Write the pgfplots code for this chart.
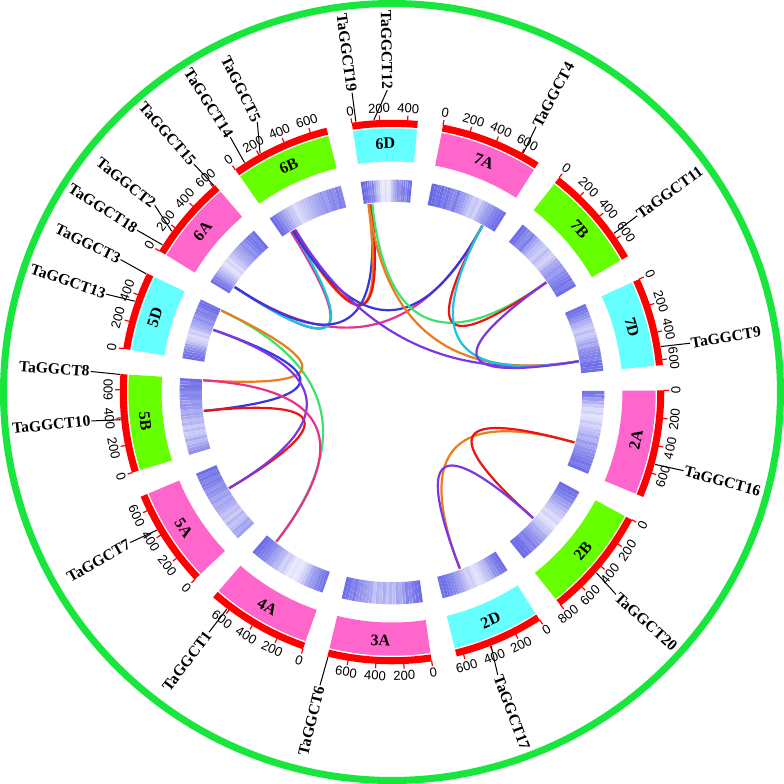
\documentclass[border=0pt]{standalone}
\usepackage{fontspec}
\setmainfont{Liberation Serif}
\newfontfamily\sansf{Liberation Sans}
\usepackage{pgfplots}
\pgfplotsset{compat=1.18}

\definecolor{bandA}{RGB}{255,102,204}
\definecolor{bandB}{RGB}{102,255,0}
\definecolor{bandD}{RGB}{102,255,255}
\definecolor{ringred}{RGB}{255,0,0}
\definecolor{gcircle}{RGB}{25,230,60}
\definecolor{lred}{RGB}{235,20,20}
\definecolor{lorange}{RGB}{235,125,30}
\definecolor{lblue}{RGB}{55,55,225}
\definecolor{lpurple}{RGB}{125,55,225}
\definecolor{lgreen}{RGB}{60,225,110}
\definecolor{lcyan}{RGB}{25,195,225}
\definecolor{lpink}{RGB}{230,50,140}

\newcommand\genefont{\fontsize{15.5}{18}\selectfont\bfseries}
\newcommand\namefont{\fontsize{16}{18}\selectfont\bfseries}
\newcommand\tickfont{\sansf\fontsize{13}{15}\selectfont}

% degrees per Mb and gap between chromosomes (degrees)
\def\sc{0.0295}
\def\gp{5.37}
\def\curstart{-8.5}
\newcommand\CS[1]{\csname cs#1\endcsname}
\newcommand\CL[1]{\csname cl#1\endcsname}
\newcommand\defchr[2]{%
  \expandafter\xdef\csname cs#1\endcsname{\curstart}%
  \expandafter\xdef\csname cl#1\endcsname{#2}%
  \pgfmathsetmacro\mytmpa{\curstart+#2*\sc+\gp}%
  \xdef\curstart{\mytmpa}}
% chromosome lengths (Mb), clockwise from the top
\defchr{6D}{473}
\defchr{7A}{737}
\defchr{7B}{751}
\defchr{7D}{639}
\defchr{2A}{780}
\defchr{2B}{801}
\defchr{2D}{651}
\defchr{3A}{750}
\defchr{4A}{745}
\defchr{5A}{710}
\defchr{5B}{713}
\defchr{5D}{566}
\defchr{6A}{618}
\defchr{6B}{720}

\newcommand\myrotflip{%
  \pgfmathsetmacro\myang{mod(\myang+360,360)}%
  \ifdim\myang pt>90pt
    \ifdim\myang pt<270pt \pgfmathsetmacro\myrot{180-\myang}\else\pgfmathsetmacro\myrot{-\myang}\fi
  \else\pgfmathsetmacro\myrot{-\myang}\fi}

\newcommand\band[2]{%
  \pgfmathsetmacro\myba{\CS{#1}}%
  \pgfmathsetmacro\mybb{\CS{#1}+\CL{#1}*\sc}%
  \edef\mytmp{\noexpand\addplot[draw=#2, line width=33pt, domain=\myba:\mybb, samples=40] ({245.5*sin(x)},{245.5*cos(x)});}\mytmp
  \edef\mytmp{\noexpand\addplot[draw=ringred, line width=7pt, domain=\myba:\mybb, samples=40] ({267*sin(x)},{267*cos(x)});}\mytmp
  \pgfmathsetmacro\myang{\CS{#1}+\CL{#1}*\sc/2}%
  \pgfmathsetmacro\myxc{247*sin(\myang)}\pgfmathsetmacro\myyc{247*cos(\myang)}%
  \myrotflip
  \edef\mytmp{\noexpand\node[font=\noexpand\namefont, rotate=\myrot, inner sep=0pt] at (axis cs:\myxc,\myyc) {#1};}\mytmp}

\newcommand\hm[2]{%
  \addplot[mesh, line width=22pt, point meta=explicit, shader=flat corner]
    table[row sep=\\, meta=v,
      x expr={200*sin(\CS{#1}+\coordindex*\CL{#1}*\sc/24)},
      y expr={200*cos(\CS{#1}+\coordindex*\CL{#1}*\sc/24)}] {#2};}

\newcommand\tk[2]{%
  \pgfmathsetmacro\myang{\CS{#1}+#2*\sc}%
  \pgfmathsetmacro\myxa{270*sin(\myang)}\pgfmathsetmacro\myya{270*cos(\myang)}%
  \pgfmathsetmacro\myxb{275*sin(\myang)}\pgfmathsetmacro\myyb{275*cos(\myang)}%
  \pgfmathsetmacro\myxc{282*sin(\myang)}\pgfmathsetmacro\myyc{282*cos(\myang)}%
  \edef\mytmp{\noexpand\addplot[draw=ringred, line width=1.2pt] coordinates {(\myxa,\myya) (\myxb,\myyb)};}\mytmp
  \myrotflip
  \edef\mytmp{\noexpand\node[font=\noexpand\tickfont, rotate=\myrot, inner sep=0pt] at (axis cs:\myxc,\myyc) {#2};}\mytmp}

\newcommand\lk[5]{%
  \pgfmathsetmacro\myp{\CS{#1}+#2*\sc}%
  \pgfmathsetmacro\myq{\CS{#3}+#4*\sc}%
  \pgfmathsetmacro\mypx{188*sin(\myp)}\pgfmathsetmacro\mypy{188*cos(\myp)}%
  \pgfmathsetmacro\myqx{188*sin(\myq)}\pgfmathsetmacro\myqy{188*cos(\myq)}%
  \edef\mytmp{\noexpand\addplot[draw=#5, line width=2.2pt, domain=0:1, samples=60] ({(1-x)^2*(\mypx)+x^2*(\myqx)},{(1-x)^2*(\mypy)+x^2*(\myqy)});}\mytmp}

\newcommand\gl[4]{%
  \pgfmathsetmacro\myg{\CS{#1}+#2*\sc}%
  \pgfmathsetmacro\myxa{271*sin(\myg)}\pgfmathsetmacro\myya{271*cos(\myg)}%
  \pgfmathsetmacro\myxb{300*sin(#3)}\pgfmathsetmacro\myyb{300*cos(#3)}%
  \pgfmathsetmacro\myxc{301*sin(#3)}\pgfmathsetmacro\myyc{301*cos(#3)}%
  \edef\mytmp{\noexpand\addplot[black, line width=1pt] coordinates {(\myxa,\myya) (\myxb,\myyb)};}\mytmp
  \pgfmathsetmacro\myang{mod(#3+360,360)}%
  \ifdim\myang pt<180pt
    \pgfmathsetmacro\myrot{90-\myang}\def\myanc{west}%
  \else
    \pgfmathsetmacro\myrot{270-\myang}\def\myanc{east}%
  \fi
  \edef\mytmp{\noexpand\node[font=\noexpand\genefont, rotate=\myrot, anchor=\myanc, inner sep=0pt] at (axis cs:\myxc,\myyc) {#4};}\mytmp}

\begin{document}
\begin{tikzpicture}
\begin{axis}[scale only axis, width=784pt, height=784pt,
  xmin=-393, xmax=391, ymin=-394, ymax=390,
  hide axis, clip=false,
  colormap={heat}{rgb255=(250,250,255) rgb255=(95,95,230)},
  point meta min=0, point meta max=1,
  every axis plot/.append style={no markers}]

\addplot[draw=gcircle, line width=7pt, domain=0:360, samples=240] ({386*sin(x)},{386*cos(x)});

% ideogram bands, scale ring and names
\band{6D}{bandD}
\band{7A}{bandA}
\band{7B}{bandB}
\band{7D}{bandD}
\band{2A}{bandA}
\band{2B}{bandB}
\band{2D}{bandD}
\band{3A}{bandA}
\band{4A}{bandA}
\band{5A}{bandA}
\band{5B}{bandB}
\band{5D}{bandD}
\band{6A}{bandA}
\band{6B}{bandB}

% gene density heatmap (25 values per chromosome, start to end)
\hm{6D}{v\\0.95\\0.9\\0.85\\0.8\\0.7\\0.75\\0.55\\0.4\\0.3\\0.15\\0.1\\0.2\\0.1\\0.15\\0.3\\0.45\\0.55\\0.7\\0.65\\0.75\\0.8\\0.7\\0.85\\0.9\\0.9\\}
\hm{7A}{v\\0.95\\0.9\\0.85\\0.9\\0.8\\0.85\\0.75\\0.7\\0.8\\0.65\\0.6\\0.5\\0.4\\0.3\\0.35\\0.25\\0.4\\0.5\\0.6\\0.65\\0.75\\0.8\\0.85\\0.9\\0.95\\}
\hm{7B}{v\\0.9\\0.85\\0.75\\0.7\\0.8\\0.6\\0.5\\0.4\\0.35\\0.3\\0.4\\0.3\\0.25\\0.35\\0.5\\0.55\\0.65\\0.6\\0.7\\0.75\\0.8\\0.85\\0.8\\0.9\\0.9\\}
\hm{7D}{v\\0.9\\0.85\\0.8\\0.7\\0.65\\0.5\\0.45\\0.35\\0.3\\0.4\\0.3\\0.35\\0.45\\0.55\\0.5\\0.65\\0.7\\0.75\\0.8\\0.75\\0.85\\0.9\\0.85\\0.9\\0.95\\}
\hm{2A}{v\\0.85\\0.8\\0.6\\0.45\\0.3\\0.2\\0.25\\0.15\\0.2\\0.3\\0.25\\0.35\\0.4\\0.5\\0.45\\0.6\\0.55\\0.65\\0.7\\0.75\\0.8\\0.85\\0.8\\0.9\\0.9\\}
\hm{2B}{v\\0.9\\0.85\\0.8\\0.75\\0.6\\0.55\\0.45\\0.35\\0.3\\0.2\\0.25\\0.15\\0.2\\0.3\\0.35\\0.5\\0.55\\0.65\\0.7\\0.8\\0.75\\0.85\\0.9\\0.9\\0.95\\}
\hm{2D}{v\\0.9\\0.85\\0.8\\0.7\\0.65\\0.5\\0.4\\0.35\\0.25\\0.2\\0.15\\0.2\\0.3\\0.25\\0.35\\0.45\\0.55\\0.6\\0.7\\0.75\\0.8\\0.85\\0.9\\0.85\\0.95\\}
\hm{3A}{v\\0.9\\0.85\\0.8\\0.7\\0.75\\0.6\\0.5\\0.55\\0.4\\0.45\\0.35\\0.5\\0.4\\0.45\\0.35\\0.5\\0.55\\0.6\\0.65\\0.7\\0.8\\0.75\\0.85\\0.9\\0.9\\}
\hm{4A}{v\\0.85\\0.8\\0.75\\0.65\\0.6\\0.5\\0.35\\0.25\\0.15\\0.1\\0.15\\0.1\\0.2\\0.3\\0.25\\0.4\\0.45\\0.55\\0.6\\0.7\\0.75\\0.8\\0.85\\0.9\\0.9\\}
\hm{5A}{v\\0.6\\0.5\\0.55\\0.4\\0.35\\0.45\\0.3\\0.4\\0.35\\0.45\\0.5\\0.55\\0.5\\0.6\\0.55\\0.65\\0.7\\0.65\\0.75\\0.8\\0.75\\0.85\\0.8\\0.9\\0.9\\}
\hm{5B}{v\\0.7\\0.6\\0.5\\0.4\\0.5\\0.35\\0.3\\0.4\\0.3\\0.45\\0.4\\0.5\\0.55\\0.5\\0.6\\0.65\\0.6\\0.7\\0.75\\0.7\\0.8\\0.85\\0.8\\0.9\\0.9\\}
\hm{5D}{v\\0.9\\0.85\\0.8\\0.75\\0.65\\0.55\\0.4\\0.3\\0.25\\0.2\\0.3\\0.25\\0.4\\0.5\\0.55\\0.6\\0.7\\0.65\\0.75\\0.8\\0.75\\0.85\\0.9\\0.85\\0.9\\}
\hm{6A}{v\\0.9\\0.8\\0.75\\0.6\\0.5\\0.4\\0.3\\0.2\\0.15\\0.25\\0.2\\0.3\\0.35\\0.45\\0.5\\0.55\\0.6\\0.7\\0.65\\0.75\\0.8\\0.85\\0.8\\0.9\\0.9\\}
\hm{6B}{v\\0.9\\0.85\\0.75\\0.65\\0.55\\0.45\\0.35\\0.3\\0.2\\0.25\\0.3\\0.35\\0.4\\0.45\\0.5\\0.55\\0.6\\0.65\\0.6\\0.7\\0.75\\0.7\\0.8\\0.75\\0.8\\}

% collinear links (chr, Mb, chr, Mb, colour)
\lk{6A}{85}{7A}{600}{lpink}
\lk{6A}{85}{6B}{100}{lpink}
\lk{6A}{85}{6B}{120}{lcyan}
\lk{6A}{85}{6D}{55}{lblue}
\lk{6B}{130}{6D}{45}{lorange}
\lk{6B}{140}{6D}{75}{lred}
\lk{6B}{120}{7A}{600}{lblue}
\lk{6B}{150}{7D}{515}{lpurple}
\lk{6D}{85}{7B}{565}{lgreen}
\lk{6D}{50}{7D}{515}{lorange}
\lk{7A}{600}{7B}{565}{lred}
\lk{7A}{600}{7D}{515}{lcyan}
\lk{7B}{565}{7D}{515}{lpurple}
\lk{5D}{555}{4A}{630}{lgreen}
\lk{5D}{555}{5B}{705}{lorange}
\lk{5D}{340}{5B}{390}{lblue}
\lk{5A}{440}{5B}{390}{lred}
\lk{5D}{340}{5A}{440}{lpurple}
\lk{5B}{705}{4A}{630}{lpink}
\lk{2A}{535}{2D}{405}{lorange}
\lk{2A}{535}{2B}{465}{lred}
\lk{2B}{465}{2D}{405}{lpurple}

% scale ticks (Mb)
\tk{6D}{0}\tk{6D}{200}\tk{6D}{400}
\tk{7A}{0}\tk{7A}{200}\tk{7A}{400}\tk{7A}{600}
\tk{7B}{0}\tk{7B}{200}\tk{7B}{400}\tk{7B}{600}
\tk{7D}{0}\tk{7D}{200}\tk{7D}{400}\tk{7D}{600}
\tk{2A}{0}\tk{2A}{200}\tk{2A}{400}\tk{2A}{600}
\tk{2B}{0}\tk{2B}{200}\tk{2B}{400}\tk{2B}{600}\tk{2B}{800}
\tk{2D}{0}\tk{2D}{200}\tk{2D}{400}\tk{2D}{600}
\tk{3A}{0}\tk{3A}{200}\tk{3A}{400}\tk{3A}{600}
\tk{4A}{0}\tk{4A}{200}\tk{4A}{400}\tk{4A}{600}
\tk{5A}{0}\tk{5A}{200}\tk{5A}{400}\tk{5A}{600}
\tk{5B}{0}\tk{5B}{200}\tk{5B}{400}\tk{5B}{600}
\tk{5D}{0}\tk{5D}{200}\tk{5D}{400}
\tk{6A}{0}\tk{6A}{200}\tk{6A}{400}\tk{6A}{600}
\tk{6B}{0}\tk{6B}{200}\tk{6B}{400}\tk{6B}{600}

% gene labels (chr, Mb, label angle, name)
\gl{6D}{30}{-7.6}{TaGGCT19}
\gl{6D}{159}{-0.9}{TaGGCT12}
\gl{7A}{609}{28.5}{TaGGCT4}
\gl{7B}{560}{54.3}{TaGGCT11}
\gl{7D}{507}{80.7}{TaGGCT9}
\gl{2A}{533}{105.1}{TaGGCT16}
\gl{2B}{456}{132.1}{TaGGCT20}
\gl{2D}{395}{159.5}{TaGGCT17}
\gl{3A}{745}{193.8}{TaGGCT6}
\gl{4A}{616}{217.3}{TaGGCT1}
\gl{5A}{445}{240.1}{TaGGCT7}
\gl{5B}{387}{264.5}{TaGGCT10}
\gl{5B}{710}{273.9}{TaGGCT8}
\gl{5D}{349}{288.9}{TaGGCT13}
\gl{5D}{560}{296}{TaGGCT3}
\gl{6A}{49}{302.4}{TaGGCT18}
\gl{6A}{167}{308.2}{TaGGCT2}
\gl{6A}{610}{319}{TaGGCT15}
\gl{6B}{83}{327.6}{TaGGCT14}
\gl{6B}{212}{333.5}{TaGGCT5}
\end{axis}
\end{tikzpicture}
\end{document}
